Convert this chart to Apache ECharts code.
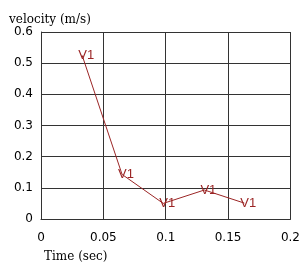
<!DOCTYPE html>
<html>
<head>
<meta charset="utf-8">
<script src="https://cdn.jsdelivr.net/npm/echarts@6/dist/echarts.min.js"></script>
<style>
html, body { margin: 0; padding: 0; background: #fff; }
#chart { width: 303px; height: 264px; }
</style>
</head>
<body>
<div id="chart"></div>
<script>
var timeData = [0.033, 0.065, 0.098, 0.131, 0.163]
var velocityData = [0.525, 0.143, 0.05, 0.093, 0.051]
var pointLabel = 'V1'
var xTicks = [0, 0.05, 0.1, 0.15, 0.2]
var yTicks = [0, 0.1, 0.2, 0.3, 0.4, 0.5, 0.6]

var lineColor = '#9b2525'
var gridColor = '#333'

var chart = echarts.init(document.getElementById('chart'))
var option = {
  animation: false,
  title: [
    {
      text: 'velocity (m/s)',
      left: 4,
      top: 9,
      textStyle: { fontFamily: 'DejaVu Serif', fontSize: 12, fontWeight: 'normal', color: '#000' }
    },
    {
      text: 'Time (sec)',
      left: 39,
      top: 246,
      textStyle: { fontFamily: 'DejaVu Serif', fontSize: 12, fontWeight: 'normal', color: '#000' }
    }
  ],
  grid: {
    left: 41,
    top: 32,
    right: 11,
    bottom: 45,
    containLabel: false
  },
  xAxis: {
    type: 'value',
    min: xTicks[0],
    max: xTicks[xTicks.length - 1],
    interval: 0.05,
    axisLine: { show: true, lineStyle: { color: gridColor, width: 1 } },
    axisTick: { show: false },
    axisLabel: {
      color: '#000',
      fontFamily: 'DejaVu Sans',
      fontSize: 12,
      margin: 13,
      showMaxLabel: true,
      formatter: function (v) { return String(+v.toFixed(2)) }
    },
    splitLine: { show: true, lineStyle: { color: gridColor, width: 1 } }
  },
  yAxis: {
    type: 'value',
    min: yTicks[0],
    max: yTicks[yTicks.length - 1],
    interval: 0.1,
    axisLine: { show: true, lineStyle: { color: gridColor, width: 1 } },
    axisTick: { show: false },
    axisLabel: {
      color: '#000',
      fontFamily: 'DejaVu Sans',
      fontSize: 12,
      margin: 8,
      formatter: function (v) { return String(+v.toFixed(1)) }
    },
    splitLine: { show: true, lineStyle: { color: gridColor, width: 1 } }
  },
  series: [
    {
      type: 'line',
      data: timeData.map(function (t, i) { return [t, velocityData[i]] }),
      symbol: 'circle',
      symbolSize: 1,
      showSymbol: true,
      itemStyle: { color: 'transparent', borderColor: 'transparent' },
      lineStyle: { color: lineColor, width: 1 },
      label: {
        show: true,
        position: 'inside',
        offset: [4, 0],
        formatter: pointLabel,
        color: lineColor,
        fontFamily: 'Liberation Sans',
        fontSize: 13
      }
    }
  ]
}
chart.setOption(option, true)
window.addEventListener('resize', () => {
  chart.resize()
})
</script>
</body>
</html>
